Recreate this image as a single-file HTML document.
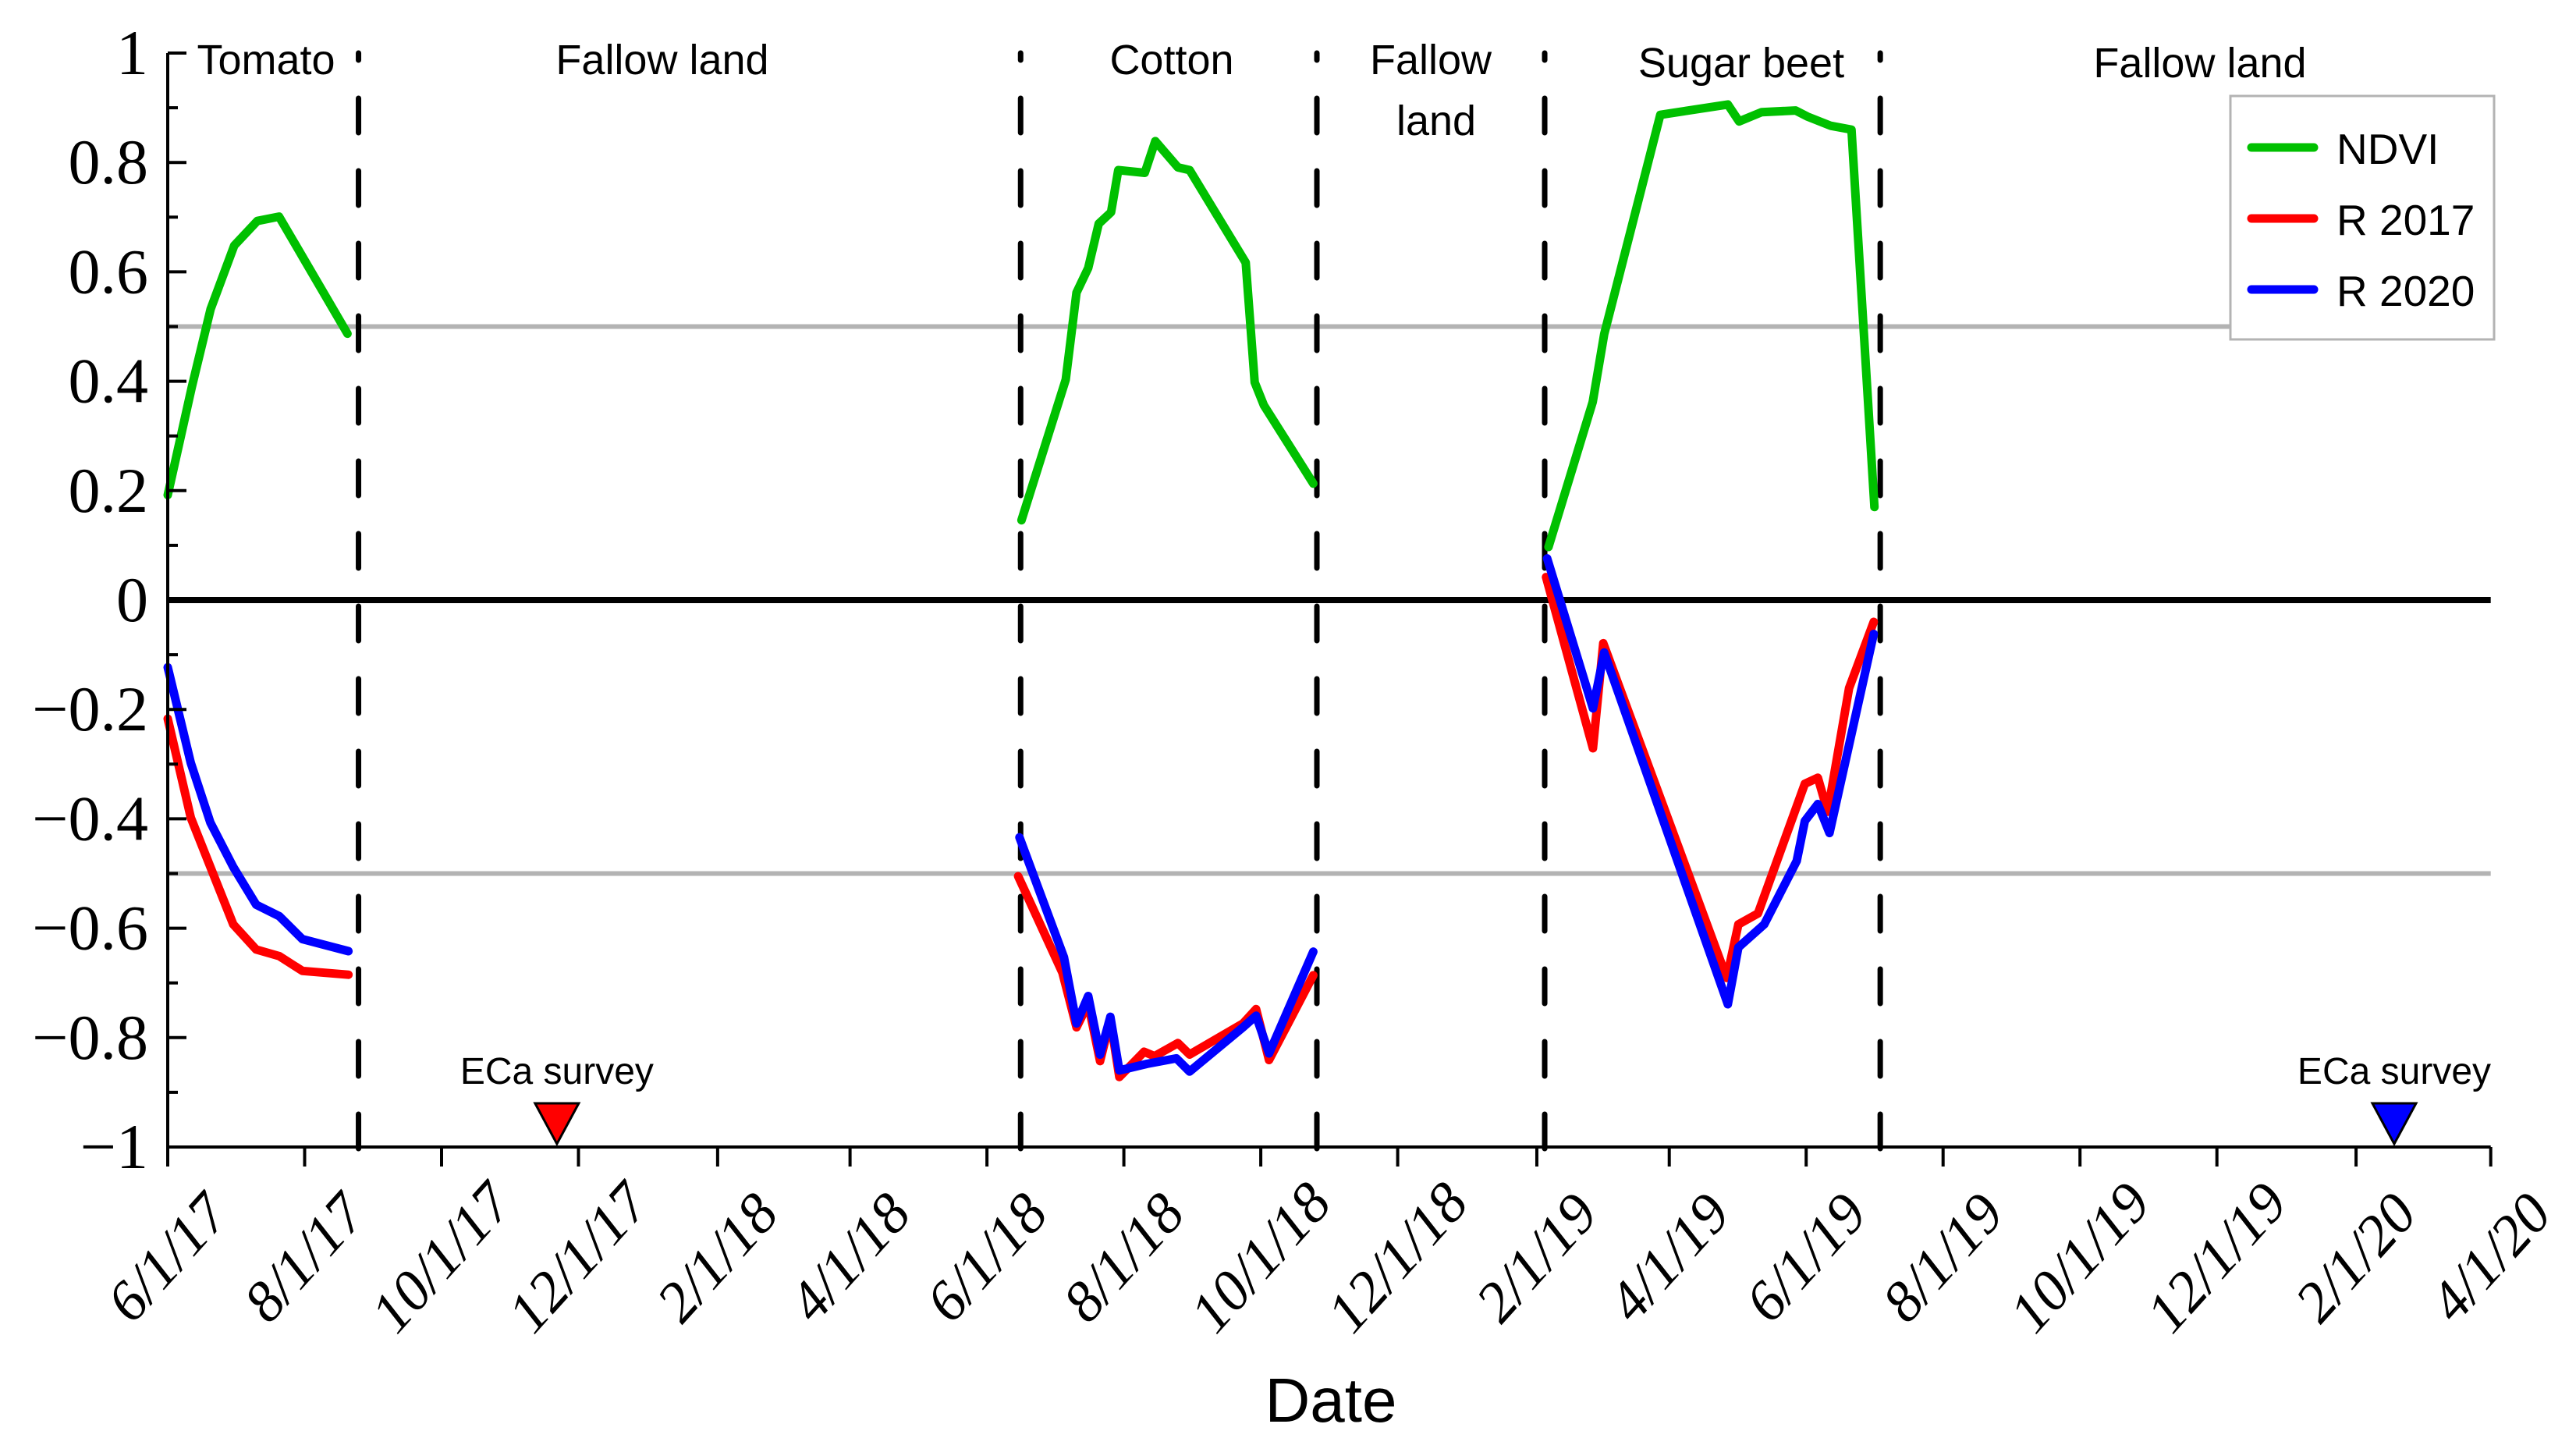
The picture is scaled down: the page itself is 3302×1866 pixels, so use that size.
<!DOCTYPE html>
<html><head><meta charset="utf-8"><title>NDVI and R time series</title>
<style>
html,body{margin:0;padding:0;background:#fff;}
svg{display:block;}
.sans{font-family:"Liberation Sans",sans-serif;}
.serif{font-family:"Liberation Serif",serif;}
</style></head>
<body>
<svg id="chart" width="3302" height="1866" viewBox="0 0 3302 1866" xmlns="http://www.w3.org/2000/svg">
<rect x="0" y="0" width="3302" height="1866" fill="#fff"/>
<g id="grid"></g>
<g id="bounds"></g>
<g id="series"></g>
<g id="axes"></g>
<g id="labels"></g>
<g id="legend">
  <rect x="2859" y="123" width="338" height="312" fill="#fff" stroke="#b3b3b3" stroke-width="3"/>
  <line x1="2886" y1="189" x2="2966" y2="189" stroke="#00c000" stroke-width="11" stroke-linecap="round"/>
  <text x="2995" y="210" class="sans" font-size="55">NDVI</text>
  <line x1="2886" y1="280" x2="2966" y2="280" stroke="#ff0000" stroke-width="11" stroke-linecap="round"/>
  <text x="2995" y="301" class="sans" font-size="55">R 2017</text>
  <line x1="2886" y1="371" x2="2966" y2="371" stroke="#0000ff" stroke-width="11" stroke-linecap="round"/>
  <text x="2995" y="392" class="sans" font-size="55">R 2020</text>
</g>
</svg>
<script>
// ---- data (x = days since 6/1/17) ----
const tickLabels = ["6/1/17","8/1/17","10/1/17","12/1/17","2/1/18","4/1/18","6/1/18","8/1/18","10/1/18","12/1/18","2/1/19","4/1/19","6/1/19","8/1/19","10/1/19","12/1/19","2/1/20","4/1/20"];
const yTickValues = [1,0.8,0.6,0.4,0.2,0,-0.2,-0.4,-0.6,-0.8,-1];
const yTickLabels = ["1","0.8","0.6","0.4","0.2","0","\u22120.2","\u22120.4","\u22120.6","\u22120.8","\u22121"];
const boundaryDays = [85,380,512,613.5,763];
const surveyDays = [173.4,992];

const tomatoNdviDays = [0,10.7,19.1,29.6,39.9,49.6,80.1];
const tomatoNdvi = [0.192,0.389,0.532,0.648,0.693,0.701,0.487];
const tomatoRDays = [0,10.3,19,29.2,39.4,49.7,60,80.5];
const tomatoR2017 = [-0.217,-0.398,-0.488,-0.593,-0.639,-0.651,-0.678,-0.685];
const tomatoR2020 = [-0.123,-0.298,-0.407,-0.488,-0.557,-0.578,-0.62,-0.642];

const cottonNdviDays = [380.4,400.1,404.9,410.1,414.8,420.3,423.5,435.3,440,450.1,455.3,480.3,484.3,488.4,510.4];
const cottonNdvi = [0.146,0.403,0.562,0.607,0.688,0.709,0.786,0.781,0.839,0.791,0.786,0.617,0.398,0.356,0.213];
const cottonR2017Days = [378.9,398.6,404.9,410.1,415.4,420,424,435,439.7,450.1,455.3,479.1,484.9,490.7,510.4];
const cottonR2017 = [-0.505,-0.681,-0.781,-0.738,-0.843,-0.767,-0.872,-0.826,-0.834,-0.81,-0.831,-0.774,-0.748,-0.841,-0.686];
const cottonR2020Days = [379.5,399.3,404.9,410.1,415.4,420,424,436.4,449.4,455.3,479.1,484.9,490.7,510.4];
const cottonR2020 = [-0.434,-0.653,-0.774,-0.724,-0.831,-0.762,-0.86,-0.848,-0.838,-0.862,-0.781,-0.76,-0.829,-0.643];

const beetNdviDays = [615.2,634.9,640,665,695.1,700.1,710.2,725.3,730.5,740.9,750.2,760.4];
const beetNdvi = [0.097,0.362,0.486,0.887,0.906,0.875,0.892,0.895,0.884,0.867,0.86,0.17];
const beetR2017Days = [614.1,635,639.6,694.6,699.8,708.5,729.4,735.2,739.6,749.1,760.1];
const beetR2017 = [0.042,-0.271,-0.079,-0.691,-0.593,-0.573,-0.336,-0.325,-0.387,-0.161,-0.04];
const beetR2020Days = [614.6,635,640,695.1,699.8,711.3,725.8,729.4,735.2,740.4,760.1];
const beetR2020 = [0.076,-0.198,-0.096,-0.739,-0.635,-0.593,-0.477,-0.404,-0.373,-0.426,-0.062];

// ---- scales ----
const X0 = 215, PXD = 2.877;
const Y0 = 769, PXU = 701;
function xs(d){ return X0 + d*PXD; }
function ys(v){ return Y0 - v*PXU; }
const baseDate = Date.UTC(2017,5,1);
function labelToDays(s){ const p=s.split('/'); return (Date.UTC(2000+ +p[2], +p[0]-1, +p[1]) - baseDate)/86400000; }

const NS = "http://www.w3.org/2000/svg";
function mk(tag, parent, attrs){ const e=document.createElementNS(NS,tag); for(const k in attrs) e.setAttribute(k,attrs[k]); parent.appendChild(e); return e; }

const gGrid=document.getElementById('grid'), gB=document.getElementById('bounds'), gS=document.getElementById('series'), gA=document.getElementById('axes'), gL=document.getElementById('labels');
const xEnd = xs(labelToDays(tickLabels[tickLabels.length-1]));

// reference lines
[0.5,-0.5].forEach(v=>{
  const l = mk('line', gGrid, {x1:X0, x2:xEnd, y1:ys(v), y2:ys(v), stroke:'#b3b3b3','stroke-width':6});
  
  
});
const zl = mk('line', gGrid, {x1:X0, x2:xEnd, y1:ys(0), y2:ys(0), stroke:'#000','stroke-width':8});



// season boundaries
boundaryDays.forEach(d=>{
  const l = mk('line', gB, {x1:xs(d), x2:xs(d), y1:ys(-1)+2, y2:ys(1), stroke:'#000','stroke-width':7,'stroke-dasharray':'44 49','stroke-linecap':'round'});
  
  
});

// series
function drawLine(days, vals, color, name){
  const pts = days.map((d,i)=>xs(d).toFixed(1)+','+ys(vals[i]).toFixed(1)).join(' ');
  const p = mk('polyline', gS, {points:pts, fill:'none', stroke:color, 'stroke-width':11, 'stroke-linejoin':'round', 'stroke-linecap':'round'});
  
  
}
drawLine(tomatoRDays, tomatoR2017, '#ff0000', 'r2017-tomato');
drawLine(tomatoRDays, tomatoR2020, '#0000ff', 'r2020-tomato');
drawLine(tomatoNdviDays, tomatoNdvi, '#00c000', 'ndvi-tomato');
drawLine(cottonR2017Days, cottonR2017, '#ff0000', 'r2017-cotton');
drawLine(cottonR2020Days, cottonR2020, '#0000ff', 'r2020-cotton');
drawLine(cottonNdviDays, cottonNdvi, '#00c000', 'ndvi-cotton');
drawLine(beetR2017Days, beetR2017, '#ff0000', 'r2017-sugar-beet');
drawLine(beetR2020Days, beetR2020, '#0000ff', 'r2020-sugar-beet');
drawLine(beetNdviDays, beetNdvi, '#00c000', 'ndvi-sugar-beet');

// axes
const yax = mk('line', gA, {x1:X0, x2:X0, y1:ys(1), y2:ys(-1), stroke:'#000','stroke-width':4});


const xax = mk('line', gA, {x1:X0, x2:xEnd, y1:ys(-1), y2:ys(-1), stroke:'#000','stroke-width':4});


for(let k=-10;k<=10;k++){
  const v=k/10, major = (k%2===0);
  const t = mk('line', gA, {x1:X0, x2:X0+(major?24:13), y1:ys(v), y2:ys(v), stroke:'#000','stroke-width':4});
  
  
}
yTickValues.forEach((v,i)=>{
  const t = mk('text', gA, {x:190, y:ys(v)+27, 'text-anchor':'end', class:'serif', 'font-size':82});
  t.textContent = yTickLabels[i];
  
  
});
tickLabels.forEach(s=>{
  const x = xs(labelToDays(s));
  const t = mk('line', gA, {x1:x, x2:x, y1:ys(-1), y2:ys(-1)+25, stroke:'#000','stroke-width':4});
  
  
  const tx = mk('text', gA, {x:x, y:1612, 'text-anchor':'middle', 'dominant-baseline':'central', class:'serif', 'font-size':74, 'font-style':'italic', transform:'rotate(-48 '+x.toFixed(1)+' 1612)'});
  tx.textContent = s;
  
  
});

// annotations
const regionLabels = [["Tomato",341,95],["Fallow land",849,95],["Cotton",1502,95],["Fallow",1834,95],["land",1841,173],["Sugar beet",2232,99],["Fallow land",2820,99]];
regionLabels.forEach(r=>{
  const t = mk('text', gL, {x:r[1], y:r[2], 'text-anchor':'middle', class:'sans', 'font-size':54});
  t.textContent = r[0];
  
  
});
const surveyColors = ['#ff0000','#0000ff'];
surveyDays.forEach((d,i)=>{
  const x = xs(d);
  const tri = mk('polygon', gL, {points:(x-28)+','+1414+' '+(x+28)+','+1414+' '+x+','+1466, fill:surveyColors[i], stroke:'#000','stroke-width':3});
  
  
  const t = mk('text', gL, {x:x, y:1389, 'text-anchor':'middle', class:'sans', 'font-size':48});
  t.textContent = 'ECa survey';
  
  
});
const title = mk('text', gL, {x:1706, y:1822, 'text-anchor':'middle', class:'sans', 'font-size':80});
title.textContent = 'Date';


</script>
</body></html>
